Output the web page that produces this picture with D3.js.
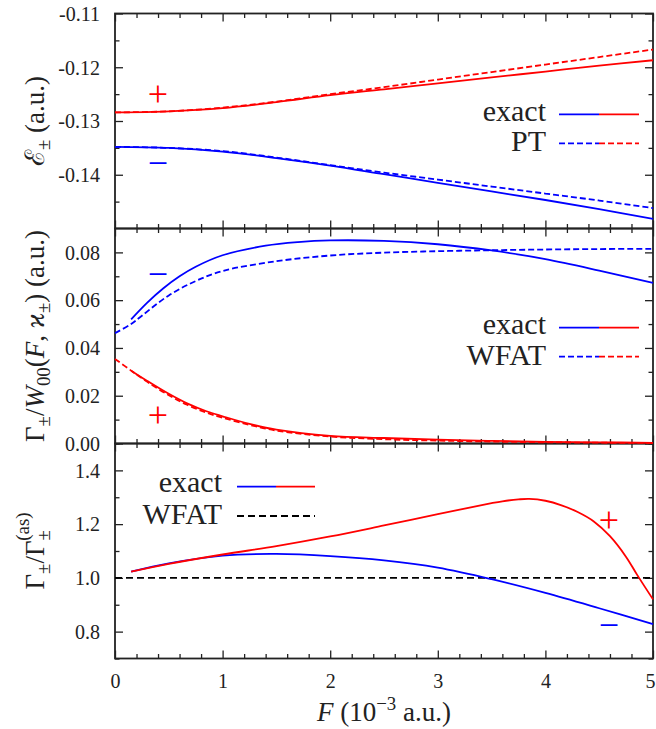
<!DOCTYPE html>
<html>
<head>
<meta charset="utf-8">
<script src="https://cdn.jsdelivr.net/npm/d3@7"></script>
<style>
  body { margin: 0; background: #fff; }
  #fig text, #fig tspan { font-family: "Liberation Serif", "Times New Roman", serif !important; }
</style>
</head>
<body>
<svg id="fig" width="656" height="729"></svg>
<script>
// ---------- data: field strength F in units of 1e-3 a.u. ----------

// Panel 1: energies E± (a.u.), exact vs perturbation theory
const fEnergy = [0, 0.5, 1, 1.5, 2, 2.5, 3, 3.5, 4, 4.5, 5];
const energyPlusExact  = [-0.1284, -0.1282, -0.1276, -0.1265, -0.1252, -0.1241, -0.1230, -0.1219, -0.1208, -0.1197, -0.1187];
const energyPlusPT     = [-0.1284, -0.1282, -0.1275, -0.1264, -0.1250, -0.1237, -0.1223, -0.1209, -0.1195, -0.1181, -0.1167];
const energyMinusExact = [-0.1348, -0.1350, -0.1357, -0.1369, -0.1383, -0.1399, -0.1415, -0.1431, -0.1447, -0.1464, -0.1482];
const energyMinusPT    = [-0.1348, -0.1350, -0.1356, -0.1368, -0.1382, -0.1396, -0.1409, -0.1422, -0.1435, -0.1448, -0.1462];

// Panel 2: reduced rates Γ±/W00 (a.u.), exact vs WFAT
const fRateMinusExact = [0.15, 0.3, 0.45, 0.6, 0.75, 1.0, 1.4, 1.7, 2.0, 2.5, 3.0, 3.5, 4.0, 4.5, 5.0];
const rateMinusExact  = [0.0520, 0.0590, 0.0650, 0.0700, 0.0740, 0.0788, 0.0828, 0.0843, 0.0850, 0.0848, 0.0834, 0.0808, 0.0772, 0.0724, 0.0672];
const fRateMinusWfat  = [0, 0.15, 0.25, 0.5, 0.75, 1.0, 1.5, 2.0, 2.5, 3.0, 3.5, 4.0, 4.5, 5.0];
const rateMinusWfat   = [0.0462, 0.0500, 0.0535, 0.0620, 0.0680, 0.0722, 0.0763, 0.0787, 0.0799, 0.0805, 0.0809, 0.0812, 0.0814, 0.0815];
const fRatePlusExact  = [0.15, 0.3, 0.5, 0.67, 0.85, 1.0, 1.25, 1.5, 2.0, 2.5, 3.0, 3.5, 4.0, 4.5, 5.0];
const ratePlusExact   = [0.0305, 0.0262, 0.0208, 0.0168, 0.0135, 0.0114, 0.0082, 0.0058, 0.0032, 0.0023, 0.0016, 0.0011, 0.0007, 0.0005, 0.0003];
const fRatePlusWfat   = [0, 0.15, 0.3, 0.5, 0.67, 0.85, 1.0, 1.25, 1.5, 2.0, 2.5, 3.0, 3.5, 4.0, 5.0];
const ratePlusWfat    = [0.0354, 0.0305, 0.0258, 0.0202, 0.0162, 0.0129, 0.0108, 0.0078, 0.0054, 0.0029, 0.0018, 0.0012, 0.0008, 0.0005, 0.0002];

// Panel 3: ratio to the asymptotic rate
const fRatioPlus      = [0.15, 0.5, 1.0, 1.5, 2.0, 2.5, 3.0, 3.5, 3.6, 3.75, 3.85, 4.0, 4.15, 4.3, 4.45, 4.6, 4.75, 4.85, 5.0];
const ratioPlusExact  = [1.023, 1.052, 1.087, 1.118, 1.154, 1.195, 1.237, 1.278, 1.285, 1.292, 1.294, 1.287, 1.270, 1.245, 1.210, 1.155, 1.078, 1.013, 0.920];
const fRatioMinus     = [0.15, 0.5, 1.0, 1.5, 2.0, 2.5, 3.0, 3.5, 4.0, 4.5, 5.0];
const ratioMinusExact = [1.023, 1.054, 1.083, 1.089, 1.081, 1.065, 1.038, 0.995, 0.944, 0.887, 0.828];
const fRatioWfat      = [0, 5];
const ratioWfat       = [1.0, 1.0];

// ---------- axes: domains and tick values ----------
const xDomain = [0, 5];
const xMajor = [0, 1, 2, 3, 4, 5];
const xMinor = [0.2, 0.4, 0.6, 0.8, 1.2, 1.4, 1.6, 1.8, 2.2, 2.4, 2.6, 2.8, 3.2, 3.4, 3.6, 3.8, 4.2, 4.4, 4.6, 4.8];
const xTickLabels = ["0", "1", "2", "3", "4", "5"];

const energyDomain = [-0.15, -0.11];
const energyMajor = [-0.14, -0.13, -0.12, -0.11];
const energyMinor = [-0.145, -0.135, -0.125, -0.115];
const energyTickLabels = ["-0.14", "-0.13", "-0.12", "-0.11"];

const rateDomain = [0, 0.09];
const rateMajor = [0, 0.02, 0.04, 0.06, 0.08];
const rateMinor = [0.01, 0.03, 0.05, 0.07];
const rateTickLabels = ["0.00", "0.02", "0.04", "0.06", "0.08"];

const ratioDomain = [0.7, 1.5];
const ratioMajor = [0.8, 1.0, 1.2, 1.4];
const ratioMinor = [0.7, 0.9, 1.1, 1.3, 1.5];
const ratioTickLabels = ["0.8", "1.0", "1.2", "1.4"];

// ---------- layout ----------
const RED = "#ff0000", BLUE = "#0000ff", INK = "#222";
const FONT = "Liberation Serif";
const left = 115, right = 653;
const panelH = 215, top0 = 13.5;

const svg = d3.select("#fig");
const x = d3.scaleLinear().domain(xDomain).range([left, right]);

const panels = [
  { domain: energyDomain, major: energyMajor, minor: energyMinor, labels: energyTickLabels },
  { domain: rateDomain,   major: rateMajor,   minor: rateMinor,   labels: rateTickLabels },
  { domain: ratioDomain,  major: ratioMajor,  minor: ratioMinor,  labels: ratioTickLabels }
];
panels.forEach((p, i) => {
  p.top = top0 + i * panelH;
  p.bottom = p.top + panelH;
  p.y = d3.scaleLinear().domain(p.domain).range([p.bottom, p.top]);
});

const MAJ = 8, MIN = 4.5;

function setFont(sel, size) {
  sel.style("font-family", `"${FONT}", serif`, "important").attr("font-size", size);
}

function styleAxis(g) {
  g.attr("font-family", null).attr("font-size", null);
  g.select(".domain").remove();
  g.selectAll("line").attr("stroke", INK).attr("stroke-width", 1.3);
  g.selectAll("text").attr("fill", INK).call(setFont, 20);
}

panels.forEach((p, i) => {
  const g = svg.append("g");
  // y axis, left with labels
  g.append("g").attr("transform", `translate(${left},0)`)
    .call(d3.axisLeft(p.y).tickValues(p.major).tickSize(-MAJ).tickPadding(15)
      .tickFormat((d, k) => p.labels[k]))
    .call(styleAxis)
    .selectAll("text").attr("dy", "0.34em");
  g.append("g").attr("transform", `translate(${left},0)`)
    .call(d3.axisLeft(p.y).tickValues(p.minor).tickSize(-MIN).tickFormat(""))
    .call(styleAxis);
  // y axis, right, ticks only
  g.append("g").attr("transform", `translate(${right},0)`)
    .call(d3.axisRight(p.y).tickValues(p.major).tickSize(-MAJ).tickFormat(""))
    .call(styleAxis);
  g.append("g").attr("transform", `translate(${right},0)`)
    .call(d3.axisRight(p.y).tickValues(p.minor).tickSize(-MIN).tickFormat(""))
    .call(styleAxis);
  // x ticks on top and bottom edges of each panel
  g.append("g").attr("transform", `translate(0,${p.top})`)
    .call(d3.axisTop(x).tickValues(xMajor).tickSize(-MAJ).tickFormat(""))
    .call(styleAxis);
  g.append("g").attr("transform", `translate(0,${p.top})`)
    .call(d3.axisTop(x).tickValues(xMinor).tickSize(-MIN).tickFormat(""))
    .call(styleAxis);
  const isLast = i === panels.length - 1;
  const bx = g.append("g").attr("transform", `translate(0,${p.bottom})`)
    .call(d3.axisBottom(x).tickValues(xMajor).tickSize(-MAJ).tickPadding(15)
      .tickFormat((d, k) => isLast ? xTickLabels[k] : ""))
    .call(styleAxis);
  // keep the last label inside the page edge
  bx.selectAll("text").filter(d => d === xDomain[1]).attr("dx", -3);
  g.append("g").attr("transform", `translate(0,${p.bottom})`)
    .call(d3.axisBottom(x).tickValues(xMinor).tickSize(-MIN).tickFormat(""))
    .call(styleAxis);
});

// panel frames
panels.forEach(p => {
  svg.append("rect")
    .attr("x", left).attr("y", p.top)
    .attr("width", right - left).attr("height", panelH)
    .attr("fill", "none").attr("stroke", INK).attr("stroke-width", 1.8);
});

// ---------- curves ----------
function drawCurve(p, fs, vs, color, dashed) {
  const line = d3.line().x(d => x(d[0])).y(d => p.y(d[1])).curve(d3.curveCatmullRom.alpha(0.5));
  svg.append("path")
    .datum(fs.map((f, k) => [f, vs[k]]))
    .attr("d", line)
    .attr("fill", "none")
    .attr("stroke", color)
    .attr("stroke-width", 1.8)
    .attr("stroke-dasharray", dashed ? (color === "#000" ? "7,4" : "6,3") : null);
}

const [pE, pR, pQ] = panels;
drawCurve(pE, fEnergy, energyPlusPT, RED, true);
drawCurve(pE, fEnergy, energyMinusPT, BLUE, true);
drawCurve(pE, fEnergy, energyPlusExact, RED, false);
drawCurve(pE, fEnergy, energyMinusExact, BLUE, false);

drawCurve(pR, fRateMinusWfat, rateMinusWfat, BLUE, true);
drawCurve(pR, fRatePlusWfat, ratePlusWfat, RED, true);
drawCurve(pR, fRateMinusExact, rateMinusExact, BLUE, false);
drawCurve(pR, fRatePlusExact, ratePlusExact, RED, false);

drawCurve(pQ, fRatioWfat, ratioWfat, "#000", true);
drawCurve(pQ, fRatioMinus, ratioMinusExact, BLUE, false);
drawCurve(pQ, fRatioPlus, ratioPlusExact, RED, false);

// ---------- state markers ----------
function mark(cx, cy, sym, color) {
  svg.append("text").attr("x", cx).attr("y", cy + 13.5)
    .attr("text-anchor", "middle").call(setFont, 36)
    .attr("fill", color).text(sym);
}
mark(158, 92, "+", RED);
mark(158, 161, "\u2212", BLUE);
mark(158, 272.5, "\u2212", BLUE);
mark(158, 413, "+", RED);
mark(609, 518, "+", RED);
mark(609, 623, "\u2212", BLUE);

// ---------- legends ----------
function legendRow(textRight, baseline, lineY, label, x0, x1, colors, dashed) {
  svg.append("text").attr("x", textRight).attr("y", baseline)
    .attr("text-anchor", "end").call(setFont, 30)
    .attr("fill", INK).text(label);
  const seg = (x1 - x0) / colors.length;
  colors.forEach((c, k) => {
    svg.append("line")
      .attr("x1", x0 + k * seg).attr("x2", x0 + (k + 1) * seg)
      .attr("y1", lineY).attr("y2", lineY)
      .attr("stroke", c).attr("stroke-width", 1.8)
      .attr("stroke-dasharray", dashed ? (c === "#000" ? "7,4" : "6,3") : null);
  });
}
legendRow(546, 120.5, 114.3, "exact", 559, 639, [BLUE, RED], false);
legendRow(546, 151, 143.3, "PT", 559, 639, [BLUE, RED], true);
legendRow(546, 333.5, 327.7, "exact", 559, 639, [BLUE, RED], false);
legendRow(546, 364.5, 356.7, "WFAT", 559, 639, [BLUE, RED], true);
legendRow(222, 491.5, 486.7, "exact", 237, 315, [BLUE, RED], false);
legendRow(222, 523.5, 516, "WFAT", 237, 315, ["#000"], true);

// ---------- axis titles with sub/superscripts ----------
// "back" moves a piece left so it stacks above the previous one
function richText(sel, parts, size) {
  const t = sel.append("text").call(setFont, size)
    .attr("fill", INK).attr("text-anchor", "middle");
  let shift = 0;
  parts.forEach(part => {
    const target = part.shift || 0;
    const ts = t.append("tspan").text(part.t).attr("dy", target - shift);
    shift = target;
    if (part.it) ts.style("font-style", "italic");
    if (part.small) ts.attr("font-size", size * 0.7);
    if (part.back) ts.attr("dx", -part.back);
  });
  return t;
}
const TS = 27;
const SUB = 6, SUP = -11;

richText(svg.append("g").attr("transform", `translate(44,${pE.top + panelH / 2}) rotate(-90)`), [
  { t: "\u2130" }, { t: "\u00b1", small: true, shift: SUB }, { t: " (a.u.)" }
], TS);

richText(svg.append("g").attr("transform", `translate(44,${pR.top + panelH / 2}) rotate(-90)`), [
  { t: "\u0393" }, { t: "\u00b1", small: true, shift: SUB }, { t: "/" },
  { t: "W", it: true }, { t: "00", small: true, shift: SUB }, { t: "(" },
  { t: "F", it: true }, { t: ", " }, { t: "\u03f0", it: true },
  { t: "\u00b1", small: true, shift: SUB }, { t: ") (a.u.)" }
], TS);

richText(svg.append("g").attr("transform", `translate(44,${pQ.top + panelH / 2}) rotate(-90)`), [
  { t: "\u0393" }, { t: "\u00b1", small: true, shift: SUB }, { t: "/\u0393" },
  { t: "\u00b1", small: true, shift: SUB }, { t: "(as)", small: true, shift: SUP - 4, back: 10.7 }
], TS);

richText(svg.append("g").attr("transform", `translate(${(left + right) / 2},721)`), [
  { t: "F", it: true }, { t: " (10" }, { t: "\u22123", small: true, shift: SUP }, { t: " a.u.)" }
], TS);
</script>
</body>
</html>
